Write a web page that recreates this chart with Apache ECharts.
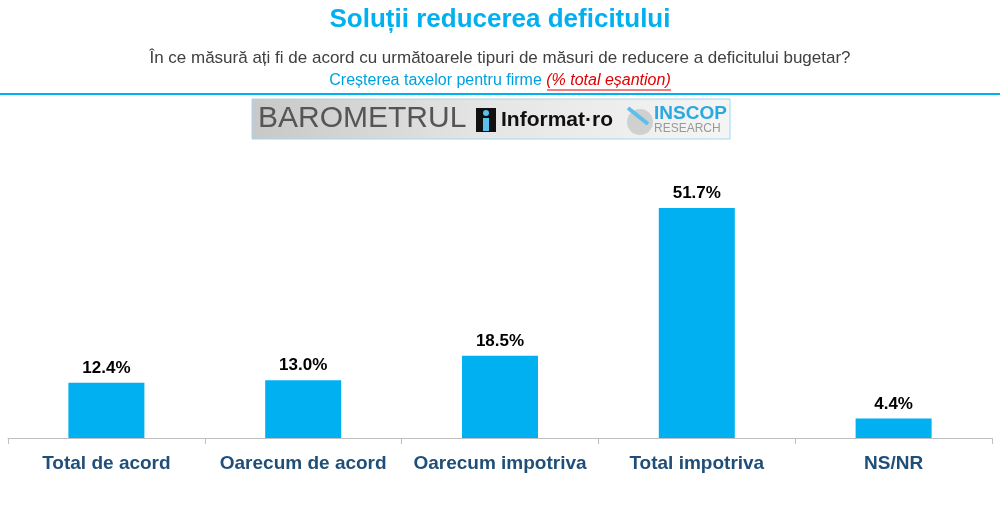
<!DOCTYPE html>
<html><head><meta charset="utf-8">
<script src="https://cdn.jsdelivr.net/npm/echarts@6/dist/echarts.min.js"></script>
<style>html,body{margin:0;padding:0;background:#fff}#c{width:1000px;height:509px}</style>
</head><body><div id="c"></div>
<script>
const categories = ['Total de acord','Oarecum de acord','Oarecum impotriva','Total impotriva','NS/NR'];
const values = [12.4, 13.0, 18.5, 51.7, 4.4];
const chart = echarts.init(document.getElementById('c'));
chart.setOption({
  animation:false,
  grid:{left:8,right:8,top:171,bottom:71},
  xAxis:{type:'category',data:categories,
    axisLine:{lineStyle:{color:'#bfbfbf'}},
    axisTick:{show:true,length:6,lineStyle:{color:'#bfbfbf'}},
    axisLabel:{interval:0,color:'#1F4E79',fontSize:19,fontWeight:'bold',fontFamily:'Arial, Liberation Sans',margin:16}},
  yAxis:{type:'value',min:0,max:60,show:false,splitLine:{show:false}},
  series:[{type:'bar',data:values,barWidth:76,itemStyle:{color:'#00B0F0'},
    label:{show:true,position:'top',formatter:p=>p.value.toFixed(1)+'%',color:'#000',fontSize:17,fontWeight:'bold',fontFamily:'Arial, Liberation Sans',distance:6}}],
  graphic:[
    {type:'text',left:'center',top:7,style:{text:'Soluții reducerea deficitului',fill:'#00B0F0',font:'bold 26px Arial, Liberation Sans'}},
    {type:'text',left:'center',top:50,style:{text:'În ce măsură ați fi de acord cu următoarele tipuri de măsuri de reducere a deficitului bugetar?',fill:'#404040',font:'17px Arial, Liberation Sans'}},
    {type:'text',left:'center',top:73,style:{text:'{a|Creșterea taxelor pentru firme }{b|(% total eșantion)}',font:'16px Arial, Liberation Sans',rich:{
      a:{fill:'#00A0E0',fontSize:16,fontFamily:'Arial, Liberation Sans'},
      b:{fill:'#E00000',fontSize:16,fontStyle:'italic',fontFamily:'Arial, Liberation Sans'}}}},
    {type:'line',shape:{x1:547,y1:90,x2:671,y2:90},style:{stroke:'#E00000',lineWidth:1}},
    {type:'line',shape:{x1:0,y1:94,x2:1000,y2:94},style:{stroke:'#00B0F0',lineWidth:2}},
    {type:'rect',shape:{x:252,y:99,width:478,height:40},style:{fill:{type:'linear',x:0,y:0,x2:1,y2:0,colorStops:[{offset:0,color:'#c8c8c8'},{offset:0.5,color:'#e6e6e6'},{offset:1,color:'#f5f5f5'}]},stroke:'#a0d8ef',lineWidth:1}},
    {type:'text',x:258,y:104,style:{text:'BAROMETRUL',fill:'#555',font:'30px Arial, Liberation Sans'}},
    {type:'rect',shape:{x:476,y:108,width:20,height:24},style:{fill:'#111'}},
    {type:'rect',shape:{x:483,y:118,width:6,height:13},style:{fill:'#5bc0eb'}},
    {type:'circle',shape:{cx:486,cy:113,r:3},style:{fill:'#5bc0eb'}},
    {type:'text',x:501,y:110,style:{text:'Informat·ro',fill:'#111',font:'bold 21px Arial, Liberation Sans'}},
    {type:'circle',shape:{cx:640,cy:122,r:13},style:{fill:'#d0d0d0'}},
    {type:'line',shape:{x1:628,y1:108,x2:648,y2:124},style:{stroke:'#5bc0eb',lineWidth:4}},
    {type:'text',x:654,y:104,style:{text:'INSCOP',fill:'#29a9e0',font:'bold 19px Arial, Liberation Sans'}},
    {type:'text',x:654,y:123,style:{text:'RESEARCH',fill:'#999',font:'12px Arial, Liberation Sans'}}
  ]
});
</script></body></html>
